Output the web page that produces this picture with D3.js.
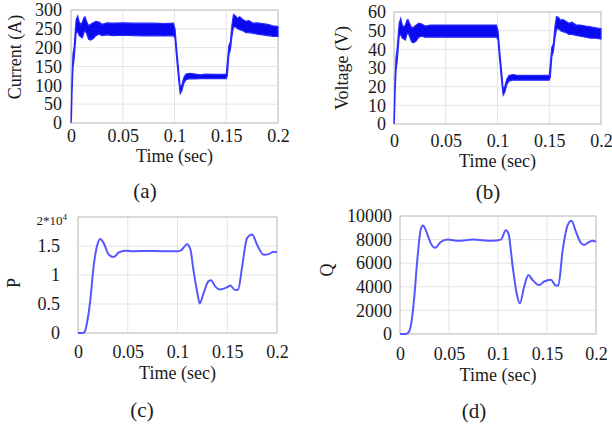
<!DOCTYPE html>
<html>
<head>
<meta charset="utf-8">
<script src="https://cdn.jsdelivr.net/npm/d3@7"></script>
<style>
  body { margin: 0; background: #fff; }
  text { font-family: "Liberation Serif", "Times New Roman", serif; fill: #1a1a1a; }
</style>
</head>
<body>
<div id="chart"></div>
<script>
const timeTicks = [0, 0.05, 0.1, 0.15, 0.2];

// (a) and (b): noisy switching waveforms, kept as upper / lower envelope
const tBand = [0, 0.0005, 0.001, 0.002, 0.003, 0.004, 0.005, 0.0065, 0.008, 0.0095, 0.011, 0.0125, 0.0135, 0.015, 0.017, 0.019, 0.0215, 0.024, 0.027, 0.03, 0.035, 0.04, 0.05, 0.06, 0.07, 0.08, 0.09, 0.099, 0.1005, 0.102, 0.104, 0.1055, 0.107, 0.109, 0.111, 0.115, 0.12, 0.125, 0.13, 0.14, 0.15, 0.151, 0.1525, 0.154, 0.1555, 0.157, 0.159, 0.161, 0.163, 0.166, 0.169, 0.172, 0.176, 0.18, 0.185, 0.19, 0.195, 0.2];
const currentHi = [5, 60, 120, 185, 200, 240, 275, 284, 268, 262, 268, 280, 282, 270, 258, 262, 266, 270, 268, 262, 266, 265, 266, 265, 265, 265, 264, 265, 250, 200, 140, 95, 100, 120, 130, 132, 130, 128, 130, 129, 130, 160, 205, 215, 260, 288, 284, 278, 282, 275, 270, 272, 265, 266, 264, 262, 258, 256];
const currentLo = [0, 20, 80, 150, 170, 205, 240, 242, 232, 228, 226, 240, 245, 238, 222, 220, 224, 232, 236, 232, 234, 232, 233, 232, 231, 232, 231, 232, 225, 175, 115, 78, 85, 105, 115, 118, 117, 118, 118, 118, 118, 125, 180, 195, 230, 255, 255, 250, 248, 245, 240, 240, 238, 236, 234, 232, 230, 230];
const voltageHi = [1, 12, 24, 36, 40, 47, 54, 56.5, 53, 52, 53, 55.5, 56, 54, 51.5, 52, 53, 54, 53.5, 52.5, 53, 53, 53, 53, 53, 53, 53, 53, 50, 40, 28, 18.5, 20, 24, 26, 26.5, 26, 26, 26, 26, 26, 32, 41, 43, 52, 57.5, 57, 55.5, 56, 55, 54, 54.5, 53, 53, 52.5, 52, 51.5, 51];
const voltageLo = [0, 4, 16, 29, 33, 40, 47, 48, 46, 45.5, 45, 48, 49, 47, 44, 43.5, 44.5, 46.5, 47, 46.5, 46.5, 46.5, 46.5, 46.5, 46.5, 46.5, 46.5, 46.5, 45, 35, 23, 15.5, 17, 21, 23, 23.5, 23.5, 23.5, 23.5, 23.5, 23.5, 25, 36, 39, 46, 51, 51, 50, 49.5, 49, 48, 48, 47.5, 47, 46.5, 46, 46, 45.5];

// (c) active power
const tP = [0, 0.005, 0.007, 0.009, 0.0124, 0.0157, 0.019, 0.0224, 0.0258, 0.031, 0.036, 0.041, 0.0476, 0.056, 0.07, 0.085, 0.1, 0.103, 0.1065, 0.1095, 0.113, 0.116, 0.12, 0.1223, 0.1263, 0.131, 0.1337, 0.138, 0.143, 0.15, 0.153, 0.158, 0.161, 0.165, 0.17, 0.175, 0.18, 0.1866, 0.1916, 0.1966, 0.2];
const powerP = [0, 0, 300, 1700, 5700, 11500, 14900, 16200, 15500, 13500, 13100, 13900, 14200, 14100, 14150, 14100, 14100, 14200, 14800, 15300, 14400, 10900, 6900, 5100, 6900, 8900, 9100, 8000, 7500, 7900, 8200, 7400, 7500, 11500, 16400, 17000, 15200, 13500, 13600, 14000, 13900];

// (d) reactive power
const tQ = [0, 0.006, 0.0092, 0.012, 0.0143, 0.0177, 0.021, 0.0235, 0.027, 0.0313, 0.0358, 0.0416, 0.0484, 0.06, 0.074, 0.094, 0.103, 0.108, 0.1107, 0.115, 0.119, 0.1223, 0.1267, 0.131, 0.135, 0.142, 0.147, 0.154, 0.159, 0.1615, 0.166, 0.171, 0.175, 0.1796, 0.1847, 0.188, 0.193, 0.1966, 0.2];
const reactiveQ = [0, 0, 200, 1200, 2900, 6300, 8800, 9200, 8650, 7700, 7300, 7800, 8000, 7900, 8000, 7900, 8000, 8800, 8500, 5700, 3450, 2600, 4000, 5000, 4600, 4150, 4450, 4600, 4100, 4100, 7100, 9200, 9600, 8650, 7700, 7550, 7800, 7900, 7800];

const currentTicks = [0, 50, 100, 150, 200, 250, 300];
const voltageTicks = [0, 10, 20, 30, 40, 50, 60];
const pTicks = [0, 5000, 10000, 15000, 20000];
const pTickLabels = ["0", "0.5", "1", "1.5", ""];
const qTicks = [0, 2000, 4000, 6000, 8000, 10000];

const svg = d3.select("#chart").append("svg")
  .attr("width", 612)
  .attr("height", 428);

function drawPanel(p) {
  const x = d3.scaleLinear().domain([0, 0.2]).range([p.left, p.right]);
  const y = d3.scaleLinear().domain([p.yTicks[0], p.yTicks[p.yTicks.length - 1]]).range([p.bottom, p.top]);
  const g = svg.append("g");

  // grid
  g.append("g").selectAll("line").data(timeTicks).join("line")
    .attr("x1", d => x(d)).attr("x2", d => x(d))
    .attr("y1", p.top).attr("y2", p.bottom)
    .attr("stroke", "#e4e4e4");
  g.append("g").selectAll("line").data(p.yTicks).join("line")
    .attr("x1", p.left).attr("x2", p.right)
    .attr("y1", d => y(d)).attr("y2", d => y(d))
    .attr("stroke", "#e4e4e4");

  g.append("rect")
    .attr("x", p.left).attr("y", p.top)
    .attr("width", p.right - p.left).attr("height", p.bottom - p.top)
    .attr("fill", "none").attr("stroke", "#c2c2c2");

  // data
  if (p.hi) {
    const rows = p.t.map((t, i) => ({ t, hi: p.hi[i], lo: p.lo[i] }));
    g.append("path").datum(rows)
      .attr("fill", "#0a0af0")
      .attr("stroke", "#2828ff")
      .attr("stroke-width", 1.2)
      .attr("d", d3.area().x(d => x(d.t)).y0(d => y(d.lo)).y1(d => y(d.hi)));
  } else {
    const rows = p.t.map((t, i) => ({ t, v: p.v[i] }));
    g.append("path").datum(rows)
      .attr("fill", "none")
      .attr("stroke", "#5656ff")
      .attr("stroke-width", 2)
      .attr("d", d3.line().curve(d3.curveMonotoneX).x(d => x(d.t)).y(d => y(d.v)));
  }

  // axes
  const xa = g.append("g")
    .attr("transform", `translate(0,${p.bottom})`)
    .call(d3.axisBottom(x).tickValues(timeTicks).tickSize(0).tickPadding(p.xPad).tickFormat(d => String(d)));
  const ya = g.append("g")
    .attr("transform", `translate(${p.left},0)`)
    .call(d3.axisLeft(y).tickValues(p.yTicks).tickSize(0).tickPadding(p.yPad).tickFormat(p.yFmt || (d => String(d))));
  [xa, ya].forEach(a => {
    a.select(".domain").remove();
    a.selectAll("text")
      .style("font-family", "'Liberation Serif', serif")
      .style("font-size", "18px")
      .style("fill", "#1a1a1a");
  });

  g.append("text")
    .attr("x", (p.left + p.right) / 2)
    .attr("y", p.titleY)
    .attr("text-anchor", "middle")
    .style("font-size", "18px")
    .text("Time (sec)");

  g.append("text")
    .attr("transform", `translate(${p.labelX},${p.labelY}) rotate(-90)`)
    .attr("text-anchor", "middle")
    .attr("dominant-baseline", "central")
    .style("font-size", "18px")
    .text(p.yLabel);

  g.append("text")
    .attr("x", p.capX)
    .attr("y", p.capY)
    .attr("text-anchor", "middle")
    .style("font-size", "21px")
    .text(p.caption);

  return { x, y, g };
}

drawPanel({ left: 71, right: 278, top: 10, bottom: 123, t: tBand, hi: currentHi, lo: currentLo,
  yTicks: currentTicks, xPad: 6, yPad: 9, titleY: 162, yLabel: "Current (A)", labelX: 15, labelY: 57,
  caption: "(a)", capX: 145, capY: 198 });

drawPanel({ left: 394, right: 601, top: 12, bottom: 124, t: tBand, hi: voltageHi, lo: voltageLo,
  yTicks: voltageTicks, xPad: 10, yPad: 8, titleY: 167, yLabel: "Voltage (V)", labelX: 342, labelY: 68,
  caption: "(b)", capX: 488, capY: 199 });

const pc = drawPanel({ left: 78, right: 277, top: 217, bottom: 333, t: tP, v: powerP,
  yTicks: pTicks, yFmt: (d, i) => pTickLabels[i], xPad: 12, yPad: 18, titleY: 379, yLabel: "P", labelX: 14, labelY: 283,
  caption: "(c)", capX: 142, capY: 417 });

// scale factor label at the top of (c)
const sf = pc.g.append("text")
  .attr("x", 67)
  .attr("y", pc.y(20000) + 8)
  .attr("text-anchor", "end")
  .style("font-size", "13px");
sf.append("tspan").text("2*10");
sf.append("tspan").attr("dy", -5).style("font-size", "9px").text("4");

drawPanel({ left: 400, right: 596, top: 216, bottom: 334, t: tQ, v: reactiveQ,
  yTicks: qTicks, xPad: 13, yPad: 8, titleY: 381, yLabel: "Q", labelX: 327, labelY: 270,
  caption: "(d)", capX: 474, capY: 418 });
</script>
</body>
</html>
